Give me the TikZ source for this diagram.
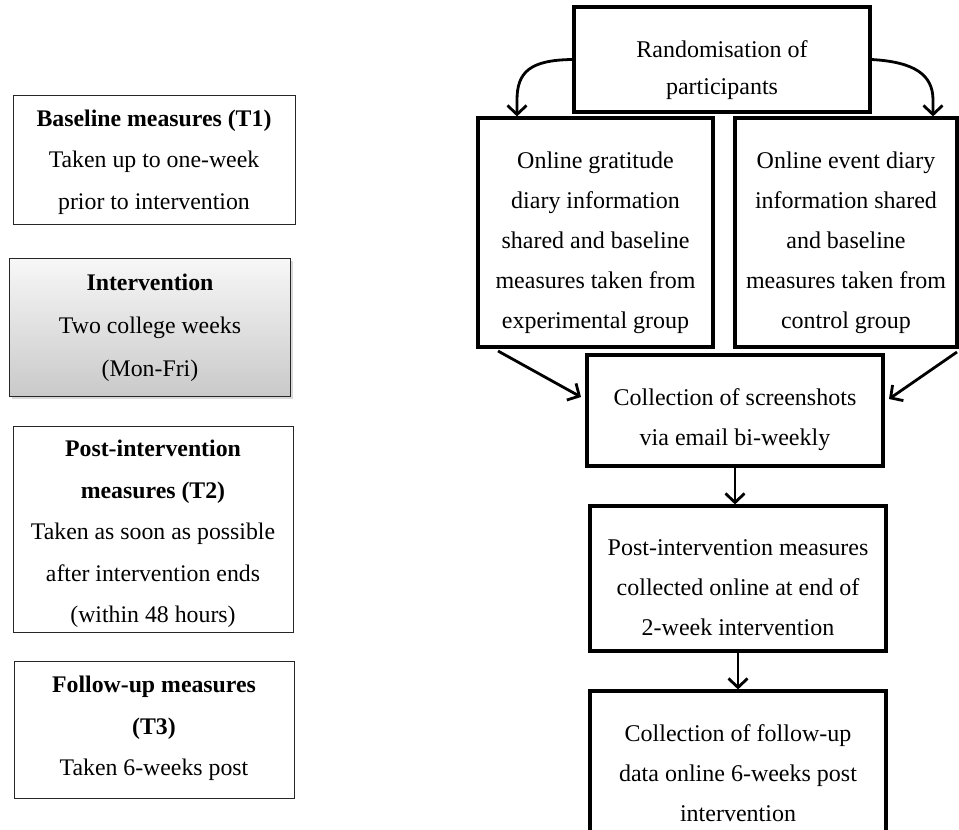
\documentclass[tikz,border=0pt]{standalone}
\usepackage{fontspec}
\setmainfont{Liberation Serif}
\usetikzlibrary{arrows.meta,shadows}
\begin{document}
\begin{tikzpicture}[x=1pt,y=-1pt,
 txt/.style={font=\fontsize{24}{40}\selectfont, align=center, inner sep=0pt},
 ltxt/.style={font=\fontsize{23.8}{41.5}\selectfont, align=center, inner sep=0pt},
 lbox/.style={draw=black!85, line width=1pt, inner sep=0pt},
 rbox/.style={draw=black, line width=3.2pt, inner sep=0pt},
 arr/.style={line width=2.8pt, -{Straight Barb[length=9pt,width=19pt,line width=2.8pt]}}
]
\clip (0,0) rectangle (959,830);
% left column
\node[lbox, minimum width=282pt, minimum height=129pt] (base) at (154,160) {};
\node[ltxt] (baset) at (154,162) {\textbf{Baseline measures (T1)}\\Taken up to one-week\\prior to intervention};
\node[lbox, minimum width=281pt, minimum height=138pt, top color=gray!6, bottom color=gray!42,
      drop shadow={shadow xshift=2pt, shadow yshift=-3pt, opacity=0.3}] (interv) at (150,327) {};
\node[ltxt, font=\fontsize{23.8}{43}\selectfont] (intervt) at (150,328) {\textbf{Intervention}\\Two college weeks\\(Mon-Fri)};
\node[lbox, minimum width=280pt, minimum height=206pt] (post) at (153,529) {};
\node[ltxt] (postt) at (153,534) {\textbf{Post-intervention}\\\textbf{measures (T2)}\\Taken as soon as possible\\after intervention ends\\(within 48 hours)};
\node[lbox, minimum width=280pt, minimum height=137pt] (foll) at (154,729.5) {};
\node[ltxt] (follt) at (154,728.5) {\textbf{Follow-up measures}\\\textbf{(T3)}\\Taken 6-weeks post};
% right column
\node[rbox, minimum width=296pt, minimum height=105pt] (rand) at (722,59.5) {};
\node[txt, font=\fontsize{24}{37}\selectfont] (randt) at (722,70) {Randomisation of\\participants};
\node[rbox, minimum width=235pt, minimum height=229pt] (grpL) at (595.5,232.5) {};
\node[txt] (grpLt) at (595.5,243) {Online gratitude\\diary information\\shared and baseline\\measures taken from\\experimental group};
\node[rbox, minimum width=222pt, minimum height=229pt] (grpR) at (846,232.5) {};
\node[txt] (grpRt) at (846,243) {Online event diary\\information shared\\and baseline\\measures taken from\\control group};
\node[rbox, minimum width=296pt, minimum height=111pt] (shots) at (735,410.5) {};
\node[txt] (shotst) at (735,420) {Collection of screenshots\\via email bi-weekly};
\node[rbox, minimum width=296pt, minimum height=145pt] (postc) at (738,578.5) {};
\node[txt] (postct) at (738,588) {Post-intervention measures\\collected online at end of\\2-week intervention};
\node[rbox, minimum width=296pt, minimum height=148pt] (fol) at (738,765) {};
\node[txt] (folt) at (738,773) {Collection of follow-up\\data online 6-weeks post\\intervention};
% connectors
\coordinate (lx) at (517,0);
\coordinate (rx) at (933,0);
\draw[arr] (rand.west) .. controls (530,60) and (517,72) .. (517,100) -- (grpL.north -| lx);
\draw[arr] (rand.east) .. controls (915,62) and (933,75) .. (933,100) -- (grpR.north -| rx);
\coordinate (d1s) at (498,351);
\coordinate (d1e) at (581,397);
\coordinate (d2s) at (957,352);
\coordinate (d2e) at (889,399);
\draw[arr] (d1s) -- (d1e);
\draw[arr] (d2s) -- (d2e);
\draw[arr] (shots.south) -- (shots.south |- postc.north);
\draw[arr] (postc.south) -- (postc.south |- fol.north);
\end{tikzpicture}
\end{document}
